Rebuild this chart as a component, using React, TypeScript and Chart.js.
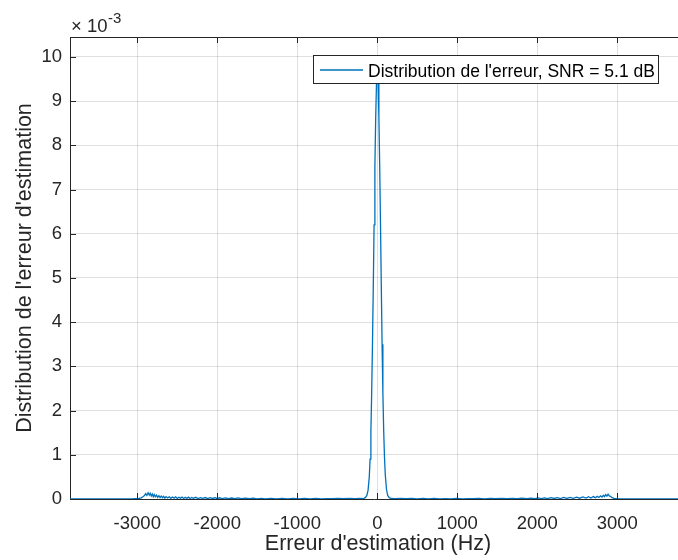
import React, { useEffect, useRef } from "react";
import { Chart, registerables } from "chart.js";

Chart.register(...registerables);

// Estimation error (Hz)
const errorHz = [
  -3841, -3600, -3400, -3200, -3050, -2980, -2950, -2930, -2910, -2895, -2880, -2865, -2850, -2838,
  -2825, -2812, -2800, -2788, -2775, -2760, -2745, -2730, -2715, -2700, -2685, -2670, -2655, -2640,
  -2620, -2600, -2580, -2560, -2540, -2520, -2500, -2480, -2460, -2440, -2420, -2400, -2380, -2360,
  -2340, -2320, -2300, -2270, -2240, -2210, -2180, -2150, -2120, -2090, -2060, -2030, -2000, -1970,
  -1940, -1900, -1860, -1820, -1780, -1740, -1700, -1650, -1600, -1550, -1500, -1450, -1400, -1330,
  -1260, -1190, -1120, -1050, -980, -910, -840, -770, -700, -630, -560, -490, -420, -350, -280, -220,
  -170, -150, -130, -115, -100, -90, -80, -70, -60, -50, -40, -30, -20, -10, 0, 10, 20, 30, 40, 50,
  60, 70, 80, 90, 100, 115, 130, 150, 170, 220, 290, 360, 430, 500, 570, 640, 710, 780, 850, 920, 990,
  1060, 1130, 1200, 1270, 1340, 1410, 1480, 1550, 1620, 1690, 1750, 1810, 1870, 1920, 1970, 2010,
  2050, 2090, 2130, 2170, 2210, 2250, 2290, 2330, 2370, 2410, 2450, 2490, 2530, 2570, 2610, 2640,
  2670, 2700, 2725, 2750, 2770, 2790, 2810, 2825, 2840, 2855, 2870, 2885, 2900, 2915, 2935, 2960,
  3000, 3200, 3450, 3759,
];

// Error distribution (x 10^-3)
const distribution = [
  0.0, 0.002, 0.003, 0.004, 0.006, 0.012, 0.025, 0.05, 0.08, 0.12, 0.08, 0.14, 0.09, 0.13,
  0.07, 0.11, 0.05, 0.1, 0.05, 0.09, 0.035, 0.075, 0.03, 0.065, 0.03, 0.06, 0.02, 0.055,
  0.025, 0.05, 0.015, 0.045, 0.02, 0.05, 0.012, 0.04, 0.02, 0.045, 0.012, 0.04, 0.015, 0.042,
  0.012, 0.035, 0.015, 0.038, 0.01, 0.032, 0.015, 0.033, 0.008, 0.03, 0.012, 0.028, 0.008, 0.027,
  0.01, 0.024, 0.006, 0.022, 0.008, 0.023, 0.006, 0.019, 0.006, 0.017, 0.005, 0.016, 0.004, 0.013,
  0.004, 0.012, 0.004, 0.011, 0.005, 0.011, 0.004, 0.012, 0.005, 0.01, 0.006, 0.012, 0.007, 0.012, 0.009, 0.012,
  0.01, 0.03, 0.08, 0.2, 0.5, 0.9, 1.5, 2.4, 3.5, 4.8, 6.2, 7.5, 8.6, 9.4, 9.75, 9.45, 8.65, 7.55, 6.25, 4.85,
  3.5, 2.4, 1.55, 0.95, 0.55, 0.22, 0.08, 0.03, 0.012, 0.01, 0.012, 0.006, 0.014, 0.005, 0.012, 0.004, 0.011, 0.005, 0.01, 0.004, 0.012,
  0.005, 0.01, 0.006, 0.013, 0.005, 0.011, 0.007, 0.014, 0.006, 0.016, 0.008, 0.018, 0.008, 0.021, 0.007, 0.023,
  0.01, 0.026, 0.009, 0.03, 0.012, 0.032, 0.01, 0.034, 0.014, 0.038, 0.015, 0.042, 0.018, 0.045, 0.02, 0.05,
  0.022, 0.055, 0.03, 0.06, 0.035, 0.07, 0.045, 0.085, 0.055, 0.1, 0.065, 0.11, 0.07, 0.06, 0.03, 0.012,
  0.005, 0.003, 0.002, 0.0,
];

const xTickValues = [-3000, -2000, -1000, 0, 1000, 2000, 3000];
const yTickValues = [0, 1, 2, 3, 4, 5, 6, 7, 8, 9, 10];
const xLimits = [-3841, 3759];
const yLimits = [0, 10.45];

const legendLabel = "Distribution de l'erreur, SNR = 5.1 dB";
const xTitle = "Erreur d'estimation (Hz)";
const yTitle = "Distribution de l'erreur d'estimation";
const exponentTimes = "×";
const exponentBase = "10";
const exponentPower = "-3";

const FONT = "'Liberation Sans', Arial, Helvetica, sans-serif";
const AXIS_COLOR = "#262626";
const LINE_COLOR = "#0072BD";

const decorPlugin = {
  id: "matlabDecor",
  afterDatasetsDraw(chart: any) {
    const { ctx, chartArea: ca, scales } = chart;
    const x = scales.x;
    const y = scales.y;
    ctx.save();
    ctx.strokeStyle = AXIS_COLOR;
    ctx.lineWidth = 1;
    // top box line
    ctx.beginPath();
    ctx.moveTo(ca.left, Math.round(ca.top) + 0.5);
    ctx.lineTo(ca.right, Math.round(ca.top) + 0.5);
    ctx.stroke();
    // inward tick marks
    const tl = 6;
    ctx.beginPath();
    for (const v of xTickValues) {
      const px = Math.round(x.getPixelForValue(v)) + 0.5;
      ctx.moveTo(px, ca.bottom);
      ctx.lineTo(px, ca.bottom - tl);
      ctx.moveTo(px, ca.top);
      ctx.lineTo(px, ca.top + tl);
    }
    for (const v of yTickValues) {
      const py = Math.round(y.getPixelForValue(v)) + 0.5;
      ctx.moveTo(ca.left, py);
      ctx.lineTo(ca.left + tl, py);
    }
    ctx.stroke();

    // legend box
    const bx = 313.5, by = 55.5, bw = 345, bh = 28;
    ctx.fillStyle = "#ffffff";
    ctx.fillRect(bx, by, bw, bh);
    ctx.strokeStyle = AXIS_COLOR;
    ctx.strokeRect(bx, by, bw, bh);
    ctx.strokeStyle = LINE_COLOR;
    ctx.lineWidth = 1.3;
    ctx.beginPath();
    ctx.moveTo(320, 70);
    ctx.lineTo(363, 70);
    ctx.stroke();
    ctx.fillStyle = "#000000";
    ctx.font = `17.5px ${FONT}`;
    ctx.textAlign = "left";
    ctx.textBaseline = "alphabetic";
    ctx.fillText(legendLabel, 368, 76.5);

    // exponent label
    ctx.fillStyle = AXIS_COLOR;
    ctx.font = `18.5px ${FONT}`;
    ctx.fillText(exponentTimes, 71, 32);
    ctx.fillText(exponentBase, 87, 32);
    ctx.font = `15px ${FONT}`;
    ctx.fillText(exponentPower, 108, 23);

    // axis titles
    ctx.font = `21.5px ${FONT}`;
    ctx.textAlign = "center";
    ctx.fillText(xTitle, 378, 550);
    ctx.save();
    ctx.translate(31, (ca.top + ca.bottom) / 2);
    ctx.rotate(-Math.PI / 2);
    ctx.fillText(yTitle, 0, 0);
    ctx.restore();
    ctx.restore();
  },
};

export default function App() {
  const ref = useRef<HTMLCanvasElement | null>(null);
  useEffect(() => {
    if (!ref.current) return;
    const points = errorHz.map((v, i) => ({ x: v, y: distribution[i] }));
    const chart = new Chart(ref.current, {
      type: "line",
      data: {
        datasets: [
          {
            label: legendLabel,
            data: points,
            borderColor: LINE_COLOR,
            borderWidth: 1.3,
            pointRadius: 0,
            tension: 0,
            fill: false,
          },
        ],
      },
      options: {
        responsive: false,
        animation: false,
        devicePixelRatio: 1,
        layout: { padding: { top: 37, right: 0, left: 0, bottom: 0 } },
        plugins: { legend: { display: false }, tooltip: { enabled: false } },
        scales: {
          x: {
            type: "linear",
            min: xLimits[0],
            max: xLimits[1],
            afterBuildTicks: (s: any) => {
              s.ticks = xTickValues.map((v) => ({ value: v }));
            },
            afterFit: (s: any) => {
              s.height = 61;
            },
            ticks: {
              autoSkip: false,
              maxRotation: 0,
              padding: 14,
              color: AXIS_COLOR,
              font: { family: FONT, size: 18.5 },
              callback: (v: any) => String(v),
            },
            grid: { color: "rgba(38,38,38,0.15)", lineWidth: 1, drawTicks: false },
            border: { display: true, color: AXIS_COLOR, width: 1 },
          },
          y: {
            type: "linear",
            min: yLimits[0],
            max: yLimits[1],
            afterBuildTicks: (s: any) => {
              s.ticks = yTickValues.map((v) => ({ value: v }));
            },
            afterFit: (s: any) => {
              s.width = 70;
            },
            ticks: {
              autoSkip: false,
              padding: 8,
              color: AXIS_COLOR,
              font: { family: FONT, size: 18.5 },
              callback: (v: any) => String(v),
            },
            grid: { color: "rgba(38,38,38,0.15)", lineWidth: 1, drawTicks: false },
            border: { display: true, color: AXIS_COLOR, width: 1 },
          },
        },
      },
      plugins: [decorPlugin],
    });
    return () => chart.destroy();
  }, []);
  return (
    <canvas
      ref={ref}
      width={678}
      height={560}
      style={{ position: "absolute", left: 0, top: 0, width: 678, height: 560, display: "block" }}
    />
  );
}
